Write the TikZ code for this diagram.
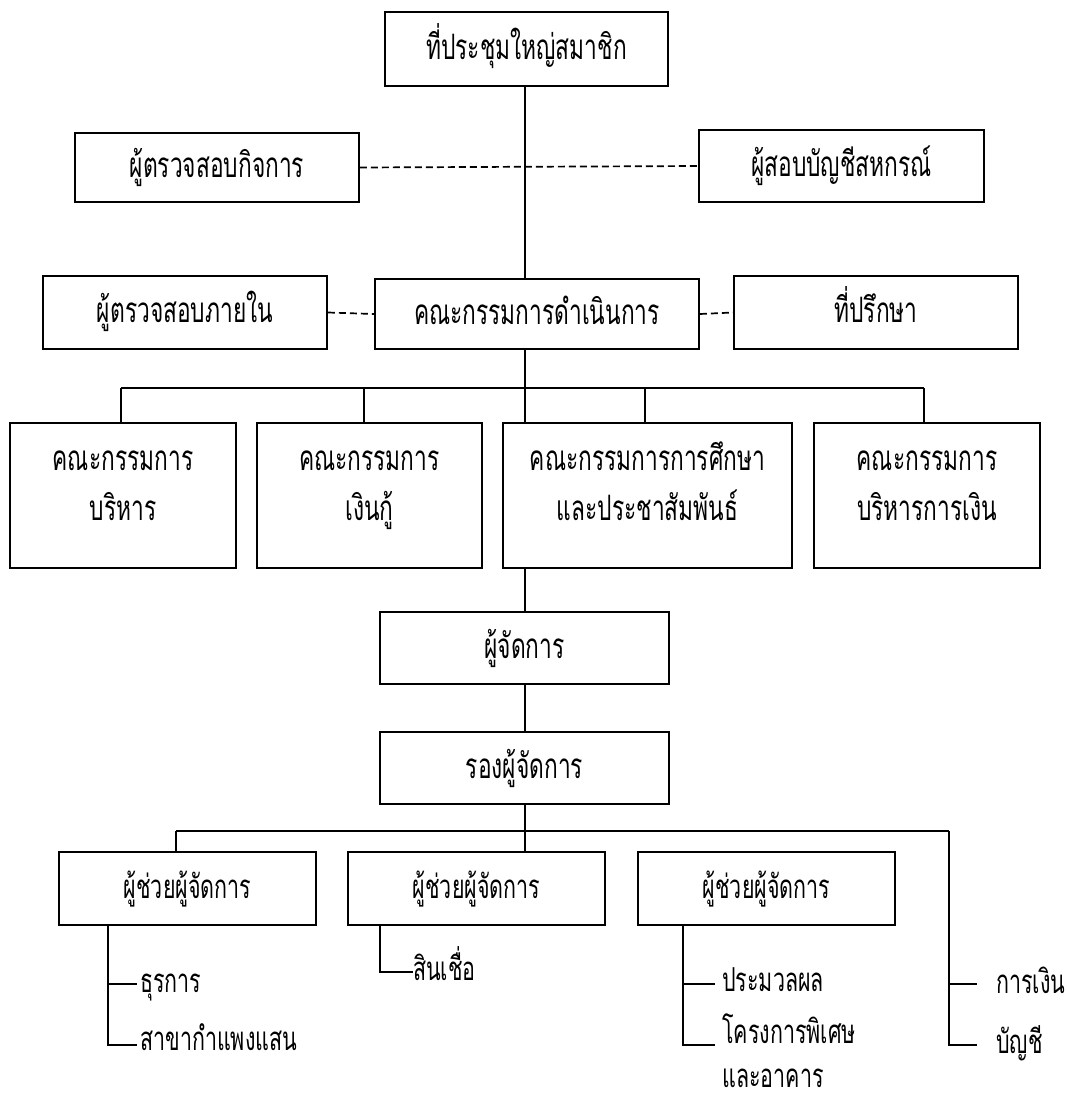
\documentclass[tikz,border=0pt]{standalone}
\usepackage{fontspec}
\newfontfamily\thaifont[Script=Thai,FakeStretch=0.65]{Loma}
\begin{document}
\begin{tikzpicture}[x=1pt,y=-1pt,
  bigfont/.style={font=\thaifont\fontsize{35}{50}\selectfont},
  smallfont/.style={font=\thaifont\fontsize{33}{50}\selectfont},
  orgbox/.style={draw,line width=1.8pt,inner sep=0pt,text height=20pt,text depth=0pt,bigfont},
  plainbox/.style={draw,line width=1.8pt,inner sep=0pt},
  boxline/.style={anchor=base,inner sep=0pt,bigfont},
  conn/.style={line width=1.6pt},
  dconn/.style={line width=1.7pt,dash pattern=on 7pt off 4pt},
  lbl/.style={anchor=base west,inner sep=0pt,smallfont}]
\useasboundingbox (0,0) rectangle (1066,1095);
% boxes
\node[orgbox,minimum width=283pt,minimum height=74pt] (top) at (526.5,49) {ที่ประชุมใหญ่สมาชิก};
\node[orgbox,minimum width=284pt,minimum height=69pt] (audL) at (217,167.5) {ผู้ตรวจสอบกิจการ};
\node[orgbox,minimum width=285pt,minimum height=72pt] (audR) at (841.5,166) {ผู้สอบบัญชีสหกรณ์};
\node[orgbox,minimum width=284pt,minimum height=73pt] (intL) at (185,312.5) {ผู้ตรวจสอบภายใน};
\node[orgbox,minimum width=324pt,minimum height=70pt] (board) at (537,314) {คณะกรรมการดำเนินการ};
\node[orgbox,minimum width=284pt,minimum height=73pt] (adv) at (876,312.5) {ที่ปรึกษา};
\node[plainbox,minimum width=226pt,minimum height=145pt] (c1) at (123,495.5) {};
\node[plainbox,minimum width=225pt,minimum height=145pt] (c2) at (369.5,495.5) {};
\node[plainbox,minimum width=289pt,minimum height=145pt] (c3) at (647.5,495.5) {};
\node[plainbox,minimum width=226pt,minimum height=145pt] (c4) at (927,495.5) {};
\node[boxline] (c1a) at (123,470) {คณะกรรมการ};
\node[boxline] (c1b) at (123,520) {บริหาร};
\node[boxline] (c2a) at (369.5,470) {คณะกรรมการ};
\node[boxline] (c2b) at (369.5,520) {เงินกู้};
\node[boxline] (c3a) at (647.5,470) {คณะกรรมการการศึกษา};
\node[boxline] (c3b) at (647.5,520) {และประชาสัมพันธ์};
\node[boxline] (c4a) at (927,470) {คณะกรรมการ};
\node[boxline] (c4b) at (927,520) {บริหารการเงิน};
\node[orgbox,minimum width=289pt,minimum height=72pt] (mgr) at (524.5,648) {ผู้จัดการ};
\node[orgbox,minimum width=289pt,minimum height=72pt] (dep) at (524.5,768) {รองผู้จัดการ};
\node[orgbox,smallfont,minimum width=257pt,minimum height=73pt] (a1) at (187.5,888.5) {ผู้ช่วยผู้จัดการ};
\node[orgbox,smallfont,minimum width=257pt,minimum height=73pt] (a2) at (476.5,888.5) {ผู้ช่วยผู้จัดการ};
\node[orgbox,smallfont,minimum width=257pt,minimum height=73pt] (a3) at (766.5,888.5) {ผู้ช่วยผู้จัดการ};
% labels
\node[lbl] (l1) at (140,992) {ธุรการ};
\node[lbl] (l2) at (140,1050) {สาขากำแพงแสน};
\node[lbl] (l3) at (413,980) {สินเชื่อ};
\node[lbl] (l4) at (722,991) {ประมวลผล};
\node[lbl] (l5) at (722,1043) {โครงการพิเศษ};
\node[lbl,text depth=0pt] (l6) at (722,1087) {และอาคาร};
\node[lbl] (l7) at (996,993) {การเงิน};
\node[lbl] (l8) at (996,1053) {บัญชี};
% coordinates
\coordinate (busL) at (121,388);
\coordinate (busR) at (924,388);
\coordinate (busM) at (525,388);
\coordinate (bus2L) at (176,831);
\coordinate (bus2M) at (525,831);
\coordinate (bus2R) at (949,831);
\coordinate (r1) at (949,984);
\coordinate (r2) at (949,1045);
\coordinate (p1) at (108,984);
\coordinate (p2) at (108,1045);
\coordinate (q1) at (380,972);
\coordinate (s1) at (683,984);
\coordinate (s2) at (683,1045);
% connectors
\draw[conn] (top.south -| busM) -- (board.north -| busM);
\draw[dconn] (audL.east) -- (audR.west);
\draw[dconn] (intL.east) -- (board.west);
\draw[dconn] (board.east) -- (adv.west);
\draw[conn] (board.south -| busM) -- (busM);
\draw[conn] (busL) -- (busR);
\draw[conn] (busL) -- (busL |- c1.north);
\draw[conn] (364,388) -- (364,423);
\draw[conn] (busM) -- (busM |- c3.north);
\draw[conn] (645,388) -- (645,423);
\draw[conn] (busR) -- (busR |- c4.north);
\draw[conn] (c3.south -| busM) -- (mgr.north -| busM);
\draw[conn] (mgr.south -| busM) -- (dep.north -| busM);
\draw[conn] (dep.south -| busM) -- (bus2M);
\draw[conn] (bus2L) -- (bus2R);
\draw[conn] (bus2L) -- (bus2L |- a1.north);
\draw[conn] (bus2M) -- (bus2M |- a2.north);
\draw[conn] (bus2R) -- (r2) -- (977,1045);
\draw[conn] (r1) -- (977,984);
\draw[conn] (a1.south -| p1) -- (p2) -- (137,1045);
\draw[conn] (p1) -- (137,984);
\draw[conn] (a2.south -| q1) -- (q1) -- (413,972);
\draw[conn] (a3.south -| s1) -- (s2) -- (715,1045);
\draw[conn] (s1) -- (715,984);
\end{tikzpicture}
\end{document}
